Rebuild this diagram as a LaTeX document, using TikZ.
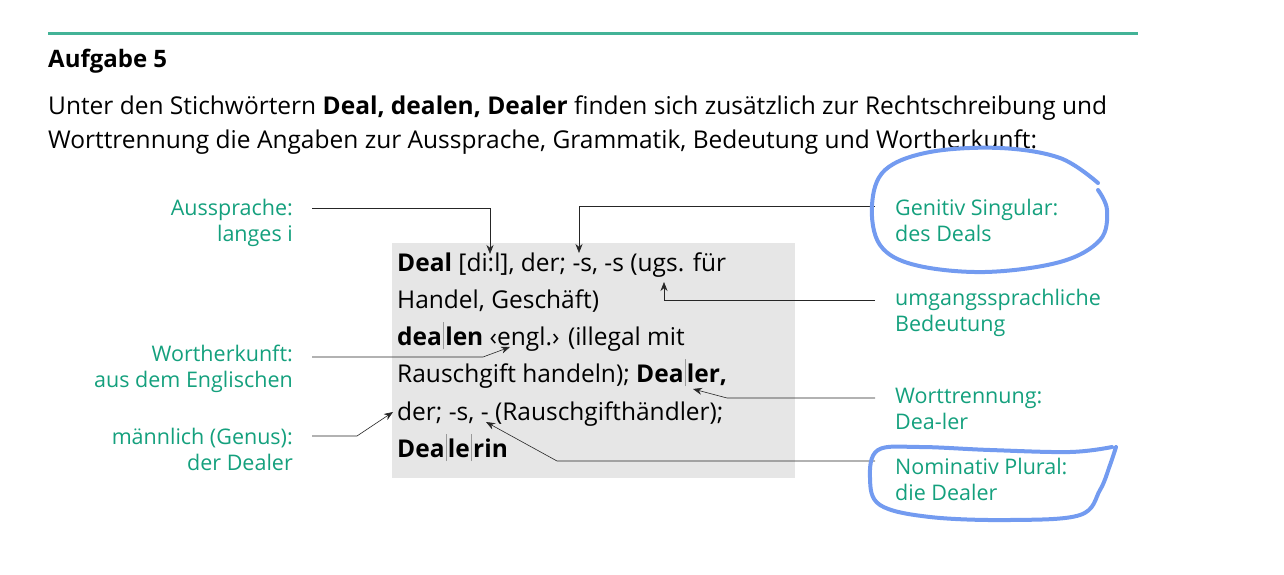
\documentclass[tikz,border=0pt]{standalone}
\usepackage{fontspec}
\setmainfont{Open Sans}
\usetikzlibrary{arrows.meta}
\definecolor{dudengreen}{RGB}{20,160,125}
\definecolor{boxgray}{RGB}{230,230,230}
\definecolor{penblue}{RGB}{115,155,240}
\newcommand{\sepbar}{\kern1pt{\color{black!40}\rule[-0.3ex]{1.3pt}{2.0ex}}\kern1pt}
\tikzset{
  lbl/.style={text=dudengreen, font=\fontsize{21.5}{26}\selectfont, inner sep=0pt},
  entry/.style={anchor=base west, inner sep=0pt, font=\fontsize{24.5}{28}\selectfont},
  intro/.style={anchor=base west, inner sep=0pt, font=\fontsize{24.5}{28}\selectfont},
  pointer/.style={-{Stealth[length=9pt,width=7pt]}, semithick, black!85},
  pen/.style={penblue, line width=4pt, line cap=round, line join=round}
}
\begin{document}
\begin{tikzpicture}[x=1pt,y=-1pt]
	\useasboundingbox (0,0) rectangle (1284,575);

	%heading and intro
	\draw[dudengreen!80, line width=3pt] (48,34) -- (1138,34);
	\node[anchor=base west, inner sep=0pt, font=\fontsize{24}{28}\selectfont\bfseries] (title) at (48,68) {Aufgabe 5};
	\node[intro] (intro1) at (48,115) {Unter den Stichwörtern \textbf{Deal, dealen, Dealer} finden sich zusätzlich zur Rechtschreibung und};
	\node[intro] (intro2) at (48,148) {Worttrennung die Angaben zur Aussprache, Grammatik, Bedeutung und Wortherkunft:};

	%the dictionary entry
	\fill[boxgray] (392,243) rectangle (795,478);
	\node[entry] (l1) at (397,271) {\textbf{Deal} [di:l], der; -s, -s (ugs. für};
	\node[entry] (l2) at (397,308) {Handel, Geschäft)};
	\node[entry] (l3) at (397,345) {\textbf{dea\sepbar len} ‹engl.› (illegal mit};
	\node[entry] (l4) at (397,382) {Rauschgift handeln); \textbf{Dea\sepbar ler,}};
	\node[entry] (l5) at (397,420) {der; -s, - (Rauschgifthändler);};
	\node[entry] (l6) at (397,457) {\textbf{Dea\sepbar le\sepbar rin}};

	%labels left
	\node[lbl, anchor=east, align=right] (aussprache) at (293,223) {Aussprache:\\langes i};
	\node[lbl, anchor=east, align=right] (herkunft) at (293,369) {Wortherkunft:\\aus dem Englischen};
	\node[lbl, anchor=east, align=right] (genus) at (293,449) {männlich (Genus):\\der Dealer};
	%labels right
	\node[lbl, anchor=west, align=left] (genitiv) at (895,220) {Genitiv Singular:\\des Deals};
	\node[lbl, anchor=west, align=left] (ugs) at (895,313) {umgangssprachliche\\Bedeutung};
	\node[lbl, anchor=west, align=left] (trennung) at (895,409) {Worttrennung:\\Dea-ler};
	\node[lbl, anchor=west, align=left] (plural) at (895,479) {Nominativ Plural:\\die Dealer};

	%pointers
	\coordinate (tipA) at (490,254);
	\coordinate (tipG) at (579,253);
	\coordinate (tipU) at (664,282);
	\coordinate (tipW) at (510,347);
	\coordinate (tipN) at (393,412);
	\coordinate (tipT) at (693,389);
	\coordinate (tipP) at (486,422);
	\draw[pointer] (312,208) -- (490,208) -- (tipA);
	\draw[pointer] (875,206) -- (579,206) -- (tipG);
	\draw[pointer] (875,300) -- (664,300) -- (tipU);
	\draw[pointer] (312,357) -- (483,357) -- (tipW);
	\draw[pointer] (312,436) -- (357,436) -- (tipN);
	\draw[pointer] (875,398) -- (727,398) -- (tipT);
	\draw[pointer] (875,461) -- (557,461) -- (tipP);

	%hand drawn circles
	\draw[pen] plot[smooth, tension=0.6] coordinates {(1098,183) (1060,158) (1000,148) (930,152) (885,170) (872,205) (880,245) (915,265) (985,272) (1060,262) (1100,240) (1107,210) (1098,190)};
	\draw[pen] plot[smooth, tension=0.6] coordinates {(1112,447) (1070,452) (990,450) (920,447) (878,450) (870,478) (880,505) (930,517) (1010,520) (1080,515) (1100,490) (1110,465) (1116,447)};
\end{tikzpicture}
\end{document}
